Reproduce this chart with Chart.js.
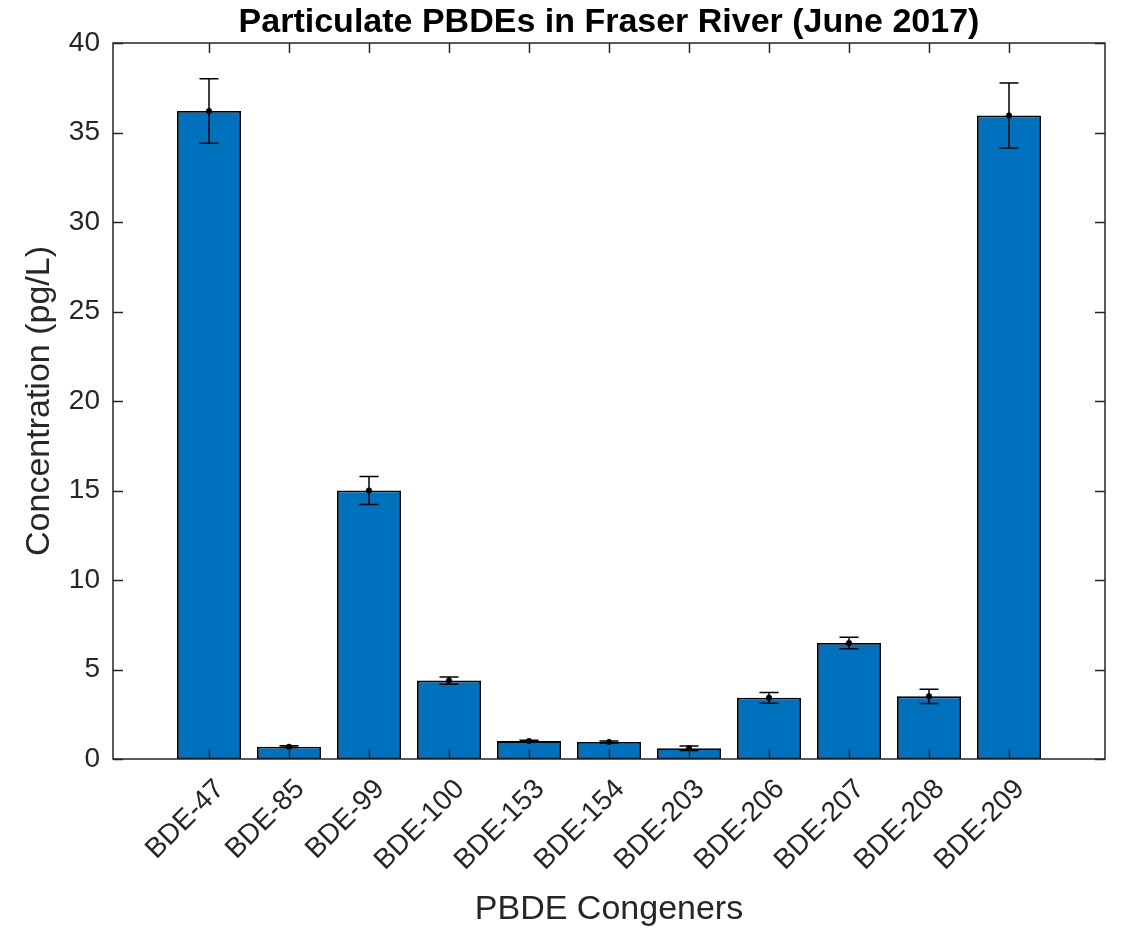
<!DOCTYPE html>
<html>
<head>
<meta charset="utf-8">
<script src="https://cdn.jsdelivr.net/npm/chart.js@4/dist/chart.umd.min.js"></script>
<style>
  html, body { margin: 0; padding: 0; background: #ffffff; }
  #wrap { width: 1122px; height: 931px; }
</style>
</head>
<body>
<div id="wrap"><canvas id="c" width="1122" height="931"></canvas></div>
<script>
// Congeners on the x axis
const congeners = ['BDE-47', 'BDE-85', 'BDE-99', 'BDE-100', 'BDE-153', 'BDE-154',
                   'BDE-203', 'BDE-206', 'BDE-207', 'BDE-208', 'BDE-209'];
// Mean particulate concentration (pg/L)
const concentration = [36.2, 0.69, 15.0, 4.38, 1.0, 0.95, 0.6, 3.42, 6.48, 3.5, 35.95];
// Error (± pg/L)
const errorAmount = [1.8, 0.05, 0.78, 0.2, 0.05, 0.05, 0.12, 0.3, 0.32, 0.4, 1.81];
// Y tick values
const yTicks = [0, 5, 10, 15, 20, 25, 30, 35, 40];

const AXIS_COLOR = '#262626';
const BAR_COLOR = '#0072BD';
const FONT = "'Liberation Sans', Arial, Helvetica, sans-serif";

// error bars with caps and a dot at the mean
const errorBars = {
  id: 'errorBars',
  afterDatasetsDraw(chart) {
    const { ctx, scales: { x, y } } = chart;
    ctx.save();
    ctx.strokeStyle = '#000';
    ctx.fillStyle = '#000';
    ctx.lineWidth = 1.5;
    concentration.forEach((v, i) => {
      const px = x.getPixelForValue(i + 1);
      const top = y.getPixelForValue(v + errorAmount[i]);
      const bot = y.getPixelForValue(v - errorAmount[i]);
      const mid = y.getPixelForValue(v);
      const cap = 9.5;
      ctx.beginPath();
      ctx.moveTo(px, top); ctx.lineTo(px, bot);
      ctx.moveTo(px - cap, top); ctx.lineTo(px + cap, top);
      ctx.moveTo(px - cap, bot); ctx.lineTo(px + cap, bot);
      ctx.stroke();
      ctx.beginPath();
      ctx.arc(px, mid, 3, 0, Math.PI * 2);
      ctx.fill();
    });
    ctx.restore();
  }
};

// boxed axes with inward tick marks; title centred over the plot area
const boxAxes = {
  id: 'boxAxes',
  afterLayout(chart) {
    if (chart.titleBlock) {
      chart.titleBlock.left = chart.chartArea.left;
      chart.titleBlock.right = chart.chartArea.right;
    }
  },
  afterDraw(chart) {
    const { ctx, chartArea: a, scales: { x, y } } = chart;
    const len = 10;
    ctx.save();
    ctx.strokeStyle = AXIS_COLOR;
    ctx.lineWidth = 1.5;
    ctx.beginPath();
    x.ticks.forEach(t => {
      const px = Math.round(x.getPixelForValue(t.value)) + 0.5;
      ctx.moveTo(px, a.bottom); ctx.lineTo(px, a.bottom - len);
      ctx.moveTo(px, a.top); ctx.lineTo(px, a.top + len);
    });
    y.ticks.forEach(t => {
      const py = Math.round(y.getPixelForValue(t.value)) + 0.5;
      ctx.moveTo(a.left, py); ctx.lineTo(a.left + len, py);
      ctx.moveTo(a.right, py); ctx.lineTo(a.right - len, py);
    });
    ctx.stroke();
    ctx.strokeRect(a.left, a.top, a.right - a.left, a.bottom - a.top);
    ctx.restore();
  }
};

Chart.defaults.font.family = FONT;
Chart.defaults.color = AXIS_COLOR;

new Chart(document.getElementById('c'), {
  type: 'bar',
  data: {
    datasets: [{
      data: concentration.map((v, i) => ({ x: i + 1, y: v })),
      backgroundColor: BAR_COLOR,
      borderColor: '#000000',
      borderWidth: 1.8,
      borderSkipped: false,
      categoryPercentage: 1.0,
      barPercentage: 0.8
    }]
  },
  options: {
    responsive: false,
    animation: false,
    layout: { padding: { left: 0, right: 17, top: 0, bottom: 0 } },
    plugins: {
      legend: { display: false },
      tooltip: { enabled: false },
      title: {
        display: true,
        text: 'Particulate PBDEs in Fraser River (June 2017)',
        color: '#000000',
        font: { family: FONT, size: 34, weight: 'bold', lineHeight: 1.0 },
        padding: { top: 6, bottom: 3 }
      }
    },
    scales: {
      x: {
        type: 'linear',
        offset: false,
        min: -0.2,
        max: 12.2,
        afterBuildTicks(scale) {
          scale.ticks = congeners.map((c, i) => ({ value: i + 1 }));
        },
        afterFit(scale) { scale.height = 172; },
        grid: { display: false, drawTicks: false, offset: false },
        border: { display: false },
        ticks: {
          autoSkip: false,
          minRotation: 45,
          maxRotation: 45,
          padding: 14,
          labelOffset: 11,
          font: { size: 28 },
          callback: (v) => congeners[v - 1]
        },
        title: {
          display: true,
          text: 'PBDE Congeners',
          font: { size: 34 },
          padding: { top: 0, bottom: 1 }
        }
      },
      y: {
        min: 0,
        max: 40,
        afterBuildTicks(scale) {
          scale.ticks = yTicks.map(v => ({ value: v }));
        },
        afterFit(scale) { scale.width = 113; },
        grid: { display: false, drawTicks: false },
        border: { display: false },
        ticks: { padding: 13, font: { size: 28 } },
        title: {
          display: true,
          text: 'Concentration (pg/L)',
          font: { size: 34 },
          padding: { top: 19, bottom: 0 }
        }
      }
    }
  },
  plugins: [errorBars, boxAxes]
});
</script>
</body>
</html>
